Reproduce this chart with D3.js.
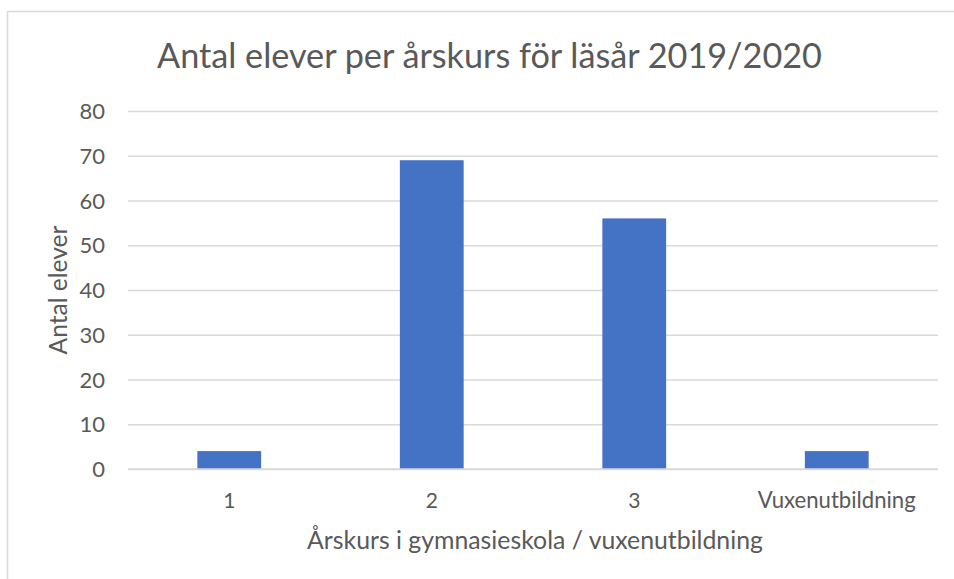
<!DOCTYPE html>
<html><head><meta charset="utf-8">
<script src="https://cdn.jsdelivr.net/npm/d3@7"></script>
<style>html,body{margin:0;padding:0;background:#fff;}svg{display:block;}</style>
</head><body>
<script>
const categories = ["1", "2", "3", "Vuxenutbildning"];
const values = [4, 69, 56, 4];
const yTicks = [0, 10, 20, 30, 40, 50, 60, 70, 80];
const title = "Antal elever per årskurs för läsår 2019/2020";
const xTitle = "Årskurs i gymnasieskola / vuxenutbildning";
const yTitle = "Antal elever";

const W = 954, H = 579;
const font = "Lato, 'Open Sans', sans-serif";
const weight = 400;
const textColor = "#595959";
const svg = d3.select("body").append("svg").attr("width", W).attr("height", H);

svg.append("rect").attr("x", 7.5).attr("y", 11.5).attr("width", W + 10).attr("height", H + 10)
  .attr("fill", "#fff").attr("stroke", "#d9d9d9").attr("stroke-width", 1.5);

const m = {left: 128, right: 938, top: 111, bottom: 469};
const x = d3.scaleBand().domain(categories).range([m.left, m.right]).paddingInner(0.685).paddingOuter(0.3425);
const y = d3.scaleLinear().domain([0, 80]).range([m.bottom, m.top]);

// gridlines
const yAxis = d3.axisLeft(y).tickValues(yTicks).tickSize(-(m.right - m.left)).tickPadding(23);
const gy = svg.append("g").attr("transform", `translate(${m.left},0)`).call(yAxis);
gy.select(".domain").remove();
gy.selectAll(".tick line").attr("stroke", "#d9d9d9").attr("stroke-width", 1.5);
gy.selectAll(".tick text").attr("fill", textColor).attr("font-family", font).attr("font-weight", weight)
  .attr("font-size", 22).attr("dy", "0.35em");

// bars
svg.append("g").selectAll("rect").data(categories).join("rect")
  .attr("x", d => x(d)).attr("width", x.bandwidth())
  .attr("y", (d, i) => y(values[i])).attr("height", (d, i) => y(0) - y(values[i]))
  .attr("fill", "#4472C4");

// x axis
const xAxis = d3.axisBottom(x).tickSize(0).tickPadding(0);
const gx = svg.append("g").attr("transform", `translate(0,${m.bottom})`).call(xAxis);
gx.select(".domain").attr("stroke", "#d9d9d9").attr("stroke-width", 1.5).attr("d", `M${m.left},0H${m.right}`);
gx.selectAll(".tick text").attr("fill", textColor).attr("font-family", font).attr("font-weight", weight)
  .attr("font-size", 21).attr("y", 39).attr("dy", 0);

function fit(sel, w) {
  const node = sel.node();
  const fs = parseFloat(sel.attr("font-size"));
  const len = node.getComputedTextLength();
  sel.attr("font-size", fs * w / len);
}

const t = svg.append("text").attr("x", 489.5).attr("y", 68).attr("text-anchor", "middle")
  .attr("fill", textColor).attr("font-family", font).attr("font-weight", weight).attr("font-size", 32).text(title);
fit(t, 665);

const xt = svg.append("text").attr("x", 535).attr("y", 549).attr("text-anchor", "middle")
  .attr("fill", textColor).attr("font-family", font).attr("font-weight", weight).attr("font-size", 21).text(xTitle);
fit(xt, 456);

const yt = svg.append("text").attr("transform", `translate(67,${(m.top + m.bottom) / 2}) rotate(-90)`)
  .attr("text-anchor", "middle").attr("fill", textColor).attr("font-family", font).attr("font-weight", weight)
  .attr("font-size", 21).text(yTitle);
fit(yt, 129);

gx.selectAll(".tick text").filter(d => d === "Vuxenutbildning").each(function(){ fit(d3.select(this), 158); });
</script>
</body></html>
